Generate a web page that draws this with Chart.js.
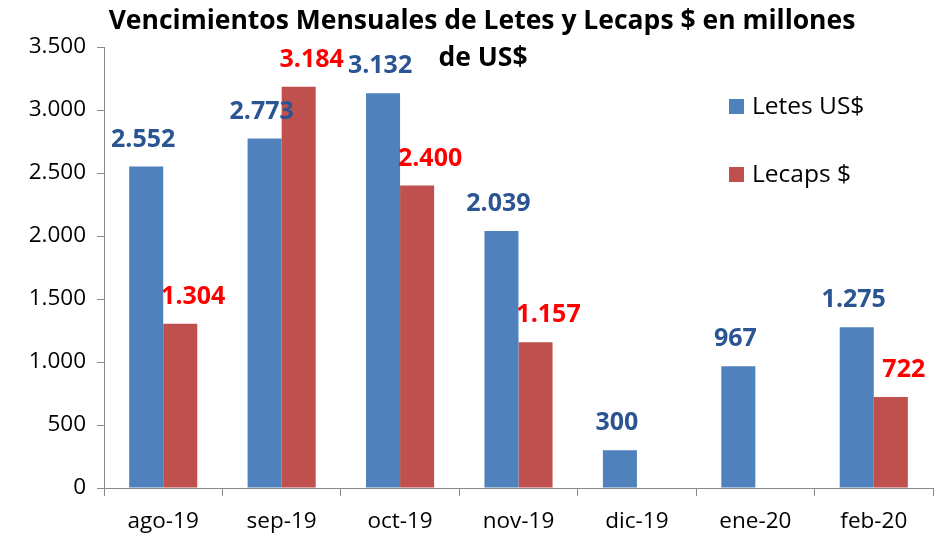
<!DOCTYPE html>
<html>
<head>
<meta charset="utf-8">
<script src="https://cdn.jsdelivr.net/npm/chart.js@4"></script>
<style>
  html, body { margin: 0; padding: 0; background: #fff; }
  #wrap { width: 941px; height: 537px; }
</style>
</head>
<body>
<div id="wrap"><canvas id="a" width="941" height="537"></canvas></div>
<script>
const meses = ["ago-19", "sep-19", "oct-19", "nov-19", "dic-19", "ene-20", "feb-20"];
const letes = [2552, 2773, 3132, 2039, 300, 967, 1275];
const lecaps = [1304, 3184, 2400, 1157, null, null, 722];
const titulo = ["Vencimientos Mensuales de Letes y Lecaps $ en millones", "de US$"];

const fmt = v => v.toLocaleString("de-DE");
const FONT = "'Open Sans', sans-serif";

// titulo, leyenda y etiquetas dibujadas a mano (se superponen al area)
const extras = {
  id: "extras",
  afterDatasetsDraw(chart) {
    const ctx = chart.ctx;
    ctx.save();
    ctx.textAlign = "center";
    ctx.textBaseline = "middle";

    chart.data.datasets.forEach((ds, i) => {
      const meta = chart.getDatasetMeta(i);
      ctx.fillStyle = ds.labelColor;
      ctx.font = "bold 25px " + FONT;
      meta.data.forEach((bar, j) => {
        const v = ds.data[j];
        if (v == null) return;
        ctx.fillText(fmt(v), bar.x + ds.labelShift, bar.y - 27);
      });
    });

    ctx.fillStyle = "#000";
    ctx.font = "bold 26.5px " + FONT;
    ctx.fillText(titulo[0], 482, 21);
    ctx.fillText(titulo[1], 483, 58);

    ctx.textAlign = "left";
    ctx.font = "24.5px " + FONT;
    chart.data.datasets.forEach((ds, i) => {
      const y = 107 + i * 68;
      ctx.fillStyle = ds.backgroundColor;
      ctx.fillRect(729, y - 8, 15, 15);
      ctx.fillStyle = "#000";
      ctx.fillText(ds.label, 752, y);
    });
    ctx.restore();
  }
};

new Chart(document.querySelector("#a"), {
  type: "bar",
  data: {
    labels: meses,
    datasets: [
      { label: "Letes US$", data: letes, backgroundColor: "#4F81BD", labelColor: "#2B5592", labelShift: -3 },
      { label: "Lecaps $", data: lecaps, backgroundColor: "#C0504D", labelColor: "#FF0000", labelShift: 13 }
    ]
  },
  options: {
    responsive: false,
    animation: false,
    layout: { padding: { top: 47, right: 8, left: 0, bottom: 0 } },
    datasets: { bar: { categoryPercentage: 0.575, barPercentage: 1.0 } },
    plugins: {
      legend: { display: false },
      title: { display: false },
      tooltip: { enabled: false }
    },
    scales: {
      x: {
        grid: { drawOnChartArea: false, offset: true, tickLength: 8, color: "#888" },
        border: { color: "#888" },
        ticks: { color: "#000", font: { family: FONT, size: 22.5 }, padding: 12 },
        afterFit(s) { s.height = 49; }
      },
      y: {
        min: 0,
        max: 3500,
        grid: { drawOnChartArea: false, tickLength: 7, color: "#888" },
        border: { color: "#888" },
        ticks: { stepSize: 500, color: "#000", font: { family: FONT, size: 22.5 }, padding: 11, callback: v => fmt(v) },
        afterFit(s) { s.width = 104; }
      }
    }
  },
  plugins: [extras]
});
</script>
</body>
</html>
